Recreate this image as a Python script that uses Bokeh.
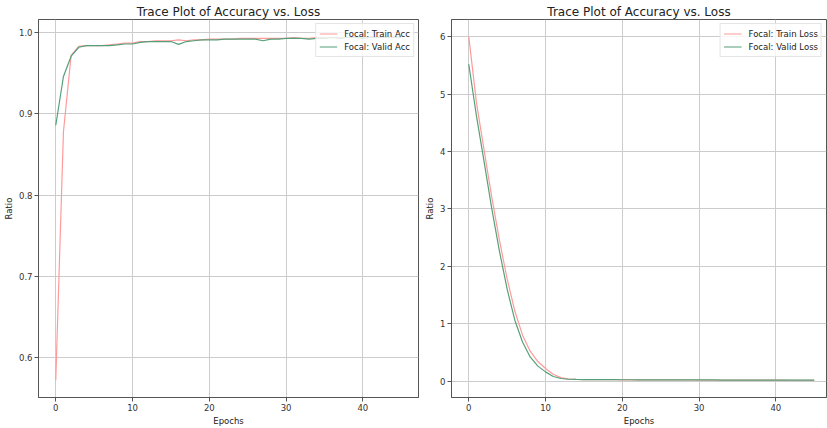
from bokeh.plotting import figure
from bokeh.layouts import row
from bokeh.models import Range1d, Legend, LegendItem, PrintfTickFormatter, FixedTicker
from bokeh.embed import file_html
from bokeh.resources import INLINE

epochs = list(range(46))

train_acc = [0.572, 0.878, 0.972, 0.983, 0.984, 0.984, 0.984, 0.985, 0.986, 0.987,
             0.987, 0.989, 0.989, 0.990, 0.990, 0.990, 0.991, 0.990, 0.991, 0.991,
             0.992, 0.992, 0.992, 0.992, 0.993, 0.993, 0.993, 0.993, 0.993, 0.993,
             0.993, 0.994, 0.993, 0.993, 0.994, 0.994, 0.994, 0.994, 0.994, 0.995,
             0.994, 0.995, 0.995, 0.995, 0.995, 0.995]
valid_acc = [0.886, 0.946, 0.971, 0.982, 0.984, 0.984, 0.984, 0.984, 0.985, 0.986,
             0.986, 0.988, 0.989, 0.989, 0.989, 0.989, 0.9855, 0.989, 0.990, 0.991,
             0.991, 0.991, 0.992, 0.992, 0.992, 0.992, 0.992, 0.990, 0.992, 0.992,
             0.993, 0.993, 0.993, 0.992, 0.993, 0.993, 0.994, 0.993, 0.994, 0.994,
             0.993, 0.994, 0.994, 0.994, 0.994, 0.994]

train_loss = [6.00, 4.85, 4.02, 3.20, 2.45, 1.78, 1.22, 0.80, 0.52, 0.34,
              0.22, 0.12, 0.06, 0.035, 0.028, 0.025, 0.024, 0.024, 0.023, 0.023,
              0.022, 0.022, 0.021, 0.021, 0.020, 0.020, 0.020, 0.019, 0.019, 0.019,
              0.018, 0.018, 0.018, 0.017, 0.017, 0.017, 0.016, 0.016, 0.016, 0.015,
              0.015, 0.015, 0.014, 0.014, 0.014, 0.013]
valid_loss = [5.52, 4.62, 3.82, 3.00, 2.26, 1.60, 1.06, 0.68, 0.42, 0.26,
              0.16, 0.08, 0.045, 0.032, 0.028, 0.026, 0.025, 0.025, 0.024, 0.024,
              0.023, 0.023, 0.022, 0.022, 0.021, 0.021, 0.021, 0.020, 0.020, 0.020,
              0.019, 0.019, 0.019, 0.018, 0.018, 0.018, 0.017, 0.017, 0.017, 0.016,
              0.016, 0.016, 0.015, 0.015, 0.015, 0.015]

title_text = "Trace Plot of Accuracy vs. Loss"
x_label = "Epochs"
y_label = "Ratio"
x_ticks = [0, 10, 20, 30, 40]
acc_ticks = [0.6, 0.7, 0.8, 0.9, 1.0]
loss_ticks = [0, 1, 2, 3, 4, 5, 6]

PINK = "#ff9a9a"
GREEN = "#55a07a"
FONT = "DejaVu Sans"


def pad_range(vals_list, right_cut=None):
    lo = min(min(v) for v in vals_list)
    hi = max(max(v) for v in vals_list)
    span = hi - lo
    end = hi + 0.05 * span
    if right_cut is not None:
        end = lo - 0.05 * span + (end - (lo - 0.05 * span)) * right_cut
    return Range1d(start=lo - 0.05 * span, end=end)


def make_fig(width, border_left, border_right, series, labels, yticks, yfmt, xcut=None):
    p = figure(width=width, height=428, output_backend="svg", toolbar_location=None,
               x_range=pad_range([epochs], xcut), y_range=pad_range(series),
               min_border_left=border_left, min_border_right=border_right,
               min_border_top=19, min_border_bottom=31)
    p.title.text = title_text
    p.title.align = "center"
    p.title.text_font = FONT
    p.title.text_font_size = "12px"
    p.title.text_font_style = "normal"
    p.title.text_color = "#222222"
    p.title.standoff = 1
    p.title.offset = 0

    renderers = []
    for vals, col in zip(series, [PINK, GREEN]):
        r = p.line(epochs, vals, line_color=col, line_width=1.2)
        renderers.append(r)

    legend = Legend(items=[LegendItem(label=lab, renderers=[r]) for lab, r in zip(labels, renderers)],
                    location="top_right")
    legend.label_text_font = FONT
    legend.label_text_font_size = "8.5px"
    legend.label_text_color = "#222222"
    legend.glyph_width = 18
    legend.glyph_height = 13
    legend.label_height = 13
    legend.label_standoff = 7
    legend.spacing = 0
    legend.padding = 3
    legend.margin = 4
    legend.border_line_color = "#cccccc"
    legend.background_fill_alpha = 0.8
    p.add_layout(legend)

    for ax in (p.xaxis[0], p.yaxis[0]):
        ax.axis_label_text_font = FONT
        ax.axis_label_text_font_size = "8.5px"
        ax.axis_label_text_font_style = "normal"
        ax.axis_label_text_color = "#222222"
        ax.major_label_text_font = FONT
        ax.major_label_text_font_size = "8.5px"
        ax.major_label_text_color = "#333333"
        ax.axis_line_color = "#555555"
        ax.major_tick_line_color = "#555555"
        ax.major_tick_in = 0
        ax.major_tick_out = 4
        ax.minor_tick_line_color = None
        ax.axis_label_standoff = 2
        ax.major_label_standoff = 2
    p.xaxis.axis_label = x_label
    p.yaxis.axis_label = y_label
    p.xaxis.ticker = FixedTicker(ticks=x_ticks)
    p.yaxis.ticker = FixedTicker(ticks=yticks)
    p.yaxis.formatter = PrintfTickFormatter(format=yfmt)

    p.xgrid.ticker = FixedTicker(ticks=x_ticks)
    p.ygrid.ticker = FixedTicker(ticks=yticks)
    p.grid.grid_line_color = "#cccccc"
    p.grid.grid_line_width = 1
    p.outline_line_color = "#555555"
    p.outline_line_width = 1
    p.background_fill_color = "white"
    return p


p1 = make_fig(420, 37, 2, [train_acc, valid_acc], ["Focal: Train Acc", "Focal: Valid Acc"], acc_ticks, "%.1f")
p2 = make_fig(407, 31, 1, [train_loss, valid_loss], ["Focal: Train Loss", "Focal: Valid Loss"], loss_ticks, "%d",
              xcut=375.0 / 380.0)

layout = row(p1, p2)
open("out.html", "w").write(file_html(layout, INLINE))
